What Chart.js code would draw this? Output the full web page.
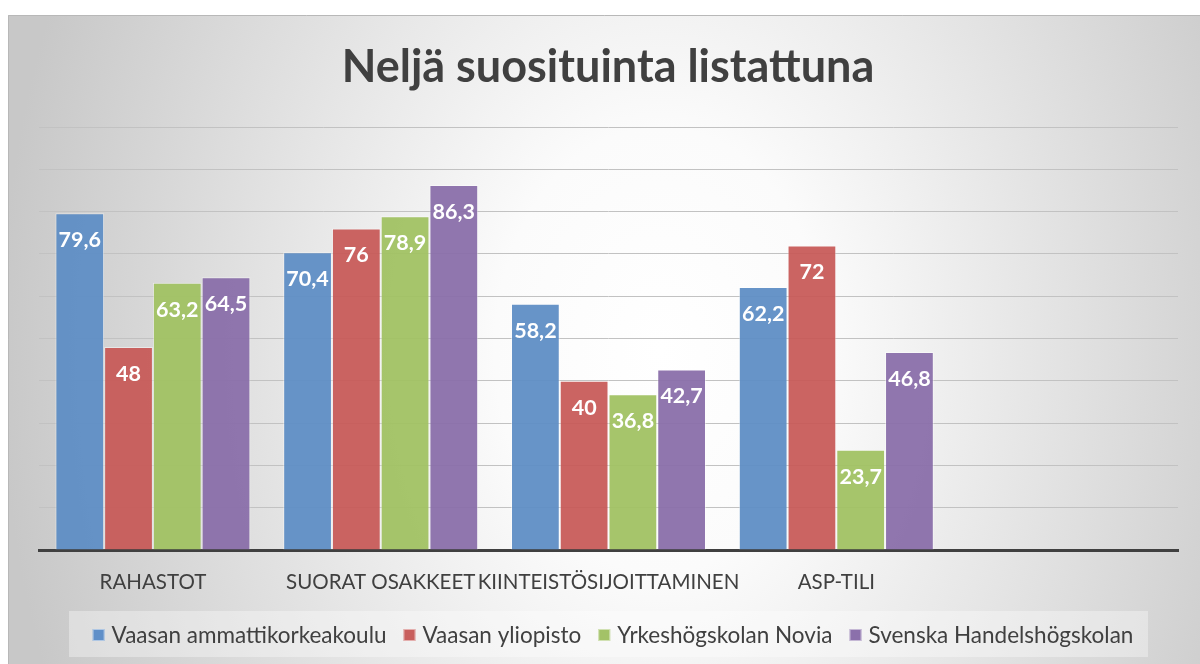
<!DOCTYPE html>
<html>
<head>
<meta charset="utf-8">
<script src="https://cdn.jsdelivr.net/npm/chart.js@4/dist/chart.umd.min.js"></script>
<style>
  html, body { margin: 0; padding: 0; background: #fff; }
  #wrap { width: 1200px; height: 664px; position: relative; }
</style>
</head>
<body>
<div id="wrap"><canvas id="c" width="1200" height="664"></canvas></div>
<script>
// Categories (the fifth slot is an empty category on the axis)
const categories = ['RAHASTOT', 'SUORAT OSAKKEET', 'KIINTEISTÖSIJOITTAMINEN', 'ASP-TILI', ''];

// Series names
const seriesNames = [
  'Vaasan ammattikorkeakoulu',
  'Vaasan yliopisto',
  'Yrkeshögskolan Novia',
  'Svenska Handelshögskolan'
];

// Values per series (percent)
const vamkValues   = [79.6, 70.4, 58.2, 62.2, null];
const uwasaValues  = [48,   76,   40,   72,   null];
const noviaValues  = [63.2, 78.9, 36.8, 23.7, null];
const hankenValues = [64.5, 86.3, 42.7, 46.8, null];

const titleText = 'Neljä suosituinta listattuna';

const seriesColors = [
  'rgba(94,141,197,0.94)',
  'rgba(199,88,86,0.93)',
  'rgba(160,193,98,0.94)',
  'rgba(137,109,169,0.94)'
];
const legendSwatches = ['#5f8fc8', '#c85f5d', '#a3c267', '#8b70ab'];

const FONT = 'Lato, "Open Sans", sans-serif';
const TEXT = '#404040';

const fmt = v => String(v).replace('.', ',');

// Frame background: light radial fill with a thin border
const backgroundPlugin = {
  id: 'frameBackground',
  beforeDraw(chart) {
    const ctx = chart.ctx;
    ctx.save();
    ctx.fillStyle = '#ffffff';
    ctx.fillRect(0, 0, chart.width, chart.height);
    ctx.save();
    ctx.beginPath();
    ctx.rect(8, 15, chart.width, chart.height);
    ctx.clip();
    ctx.translate(660, 350);
    ctx.scale(1, 1.35);
    const g = ctx.createRadialGradient(0, 0, 0, 0, 0, 660);
    g.addColorStop(0, '#ffffff');
    g.addColorStop(0.25, '#fbfbfb');
    g.addColorStop(1, '#c8c8c8');
    ctx.fillStyle = g;
    ctx.fillRect(-700, -400, 1400, 800);
    ctx.restore();
    ctx.strokeStyle = '#b8b8b8';
    ctx.lineWidth = 1;
    ctx.beginPath();
    ctx.moveTo(8.5, chart.height);
    ctx.lineTo(8.5, 15.5);
    ctx.lineTo(chart.width, 15.5);
    ctx.stroke();
    ctx.restore();
  }
};

// Title and legend drawn over the frame
const decorPlugin = {
  id: 'decor',
  afterDraw(chart) {
    const ctx = chart.ctx;
    ctx.save();
    // title
    ctx.fillStyle = TEXT;
    ctx.font = 'bold 45px ' + FONT;
    ctx.textAlign = 'center';
    ctx.textBaseline = 'middle';
    ctx.fillText(titleText, 608, 67);

    // legend box
    ctx.fillStyle = 'rgba(255,255,255,0.35)';
    ctx.fillRect(69, 611, 1079, 46);
    ctx.font = '22.5px ' + FONT;
    ctx.textAlign = 'left';
    const sw = 12, gapText = 7, gapItem = 17;
    const widths = seriesNames.map(n => sw + gapText + ctx.measureText(n).width);
    const total = widths.reduce((a, b) => a + b, 0) + gapItem * (widths.length - 1);
    let x = 613 - total / 2;
    const cy = 635;
    seriesNames.forEach((n, i) => {
      ctx.fillStyle = legendSwatches[i];
      ctx.fillRect(x, cy - 6, sw, sw);
      ctx.strokeStyle = 'rgba(255,255,255,0.5)';
      ctx.lineWidth = 1;
      ctx.strokeRect(x + 0.5, cy - 5.5, sw - 1, sw - 1);
      ctx.fillStyle = TEXT;
      ctx.fillText(n, x + sw + gapText, cy + 1);
      x += widths[i] + gapItem;
    });
    ctx.restore();
  }
};

// Value labels inside the top of each bar
const valueLabelPlugin = {
  id: 'valueLabels',
  afterDatasetsDraw(chart) {
    const ctx = chart.ctx;
    ctx.save();
    ctx.font = 'bold 21.5px ' + FONT;
    ctx.fillStyle = '#ffffff';
    ctx.textAlign = 'center';
    ctx.textBaseline = 'middle';
    chart.data.datasets.forEach((ds, di) => {
      const meta = chart.getDatasetMeta(di);
      meta.data.forEach((bar, i) => {
        const v = ds.data[i];
        if (v === null || v === undefined) return;
        ctx.fillText(fmt(v), bar.x, bar.y + 27);
      });
    });
    ctx.restore();
  }
};

const seriesValues = [vamkValues, uwasaValues, noviaValues, hankenValues];

new Chart(document.getElementById('c'), {
  type: 'bar',
  data: {
    labels: categories,
    datasets: seriesNames.map((name, i) => ({
      label: name,
      data: seriesValues[i],
      backgroundColor: seriesColors[i],
      borderColor: 'rgba(255,255,255,0.45)',
      borderWidth: 1,
      barPercentage: 1.0,
      categoryPercentage: 0.856
    }))
  },
  options: {
    responsive: false,
    animation: false,
    devicePixelRatio: 1,
    layout: { padding: { left: 39, right: 22, top: 127, bottom: 0 } },
    plugins: {
      legend: { display: false },
      title: { display: false },
      tooltip: { enabled: false }
    },
    scales: {
      x: {
        grid: { display: false },
        border: { display: true, color: '#404040', width: 3 },
        ticks: {
          color: TEXT,
          font: { family: FONT, size: 20.5 },
          padding: 12,
          maxRotation: 0,
          autoSkip: false
        },
        afterFit(scale) { scale.height = 114; }
      },
      y: {
        min: 0,
        max: 100,
        ticks: { display: false, stepSize: 10 },
        border: { display: false },
        grid: { color: '#c2c2c2', lineWidth: 1, drawTicks: false },
        afterFit(scale) { scale.width = 0; }
      }
    }
  },
  plugins: [backgroundPlugin, valueLabelPlugin, decorPlugin]
});
</script>
</body>
</html>
